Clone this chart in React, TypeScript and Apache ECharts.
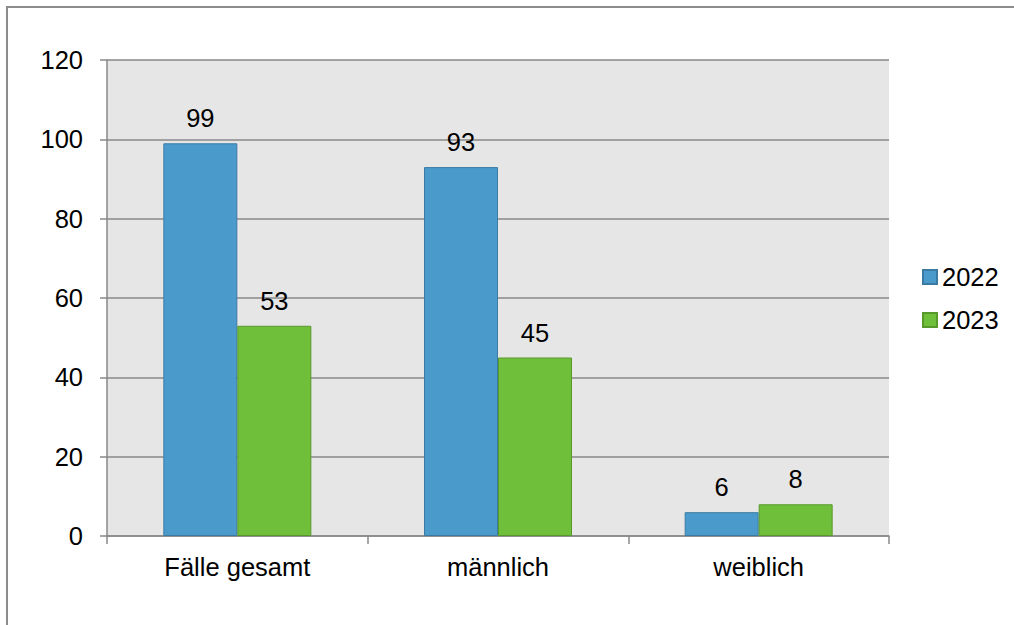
import React, { useEffect, useRef } from "react";
import * as echarts from "echarts";

const categories = ["Fälle gesamt", "männlich", "weiblich"];
const series2022 = [99, 93, 6];
const series2023 = [53, 45, 8];
const seriesNames = ["2022", "2023"];

export default function App() {
  const ref = useRef<HTMLDivElement>(null);
  useEffect(() => {
    document.body.style.margin = "0";
    const chart = echarts.init(ref.current!, null, { renderer: "svg" });
    const font = "'Liberation Sans', Arial, sans-serif";
    const fs = 25.5;
    const labelCfg = {
      show: true,
      position: "top" as const,
      distance: 12,
      fontSize: fs,
      color: "#000",
      fontFamily: font,
    };
    chart.setOption({
      animation: false,
      textStyle: { fontFamily: font },
      graphic: [
        {
          type: "rect",
          shape: { x: 7, y: 7, width: 1010, height: 625 },
          style: { fill: "none", stroke: "#8c8c8c", lineWidth: 2 },
          silent: true,
        },
      ],
      grid: {
        left: 107,
        right: 125,
        top: 60,
        bottom: 89,
        show: true,
        backgroundColor: "#e6e6e6",
        borderWidth: 0,
      },
      legend: {
        orient: "vertical",
        left: 917,
        top: 259,
        itemWidth: 14,
        itemHeight: 14,
        itemGap: 17,
        icon: "rect",
        textStyle: { fontSize: fs, color: "#000", fontFamily: font },
        data: seriesNames,
      },
      xAxis: {
        type: "category",
        data: categories,
        axisLine: { lineStyle: { color: "#888", width: 1.5 } },
        axisTick: { show: true, length: 8, lineStyle: { color: "#888", width: 1.5 } },
        axisLabel: { fontSize: fs, color: "#000", margin: 18, fontFamily: font },
      },
      yAxis: {
        type: "value",
        min: 0,
        max: 120,
        interval: 20,
        axisLine: { show: true, lineStyle: { color: "#888", width: 1.5 } },
        axisTick: { show: true, length: 7, lineStyle: { color: "#888", width: 1.5 } },
        axisLabel: { fontSize: fs, color: "#000", margin: 24, fontFamily: font },
        splitLine: { lineStyle: { color: "#888", width: 1.5 } },
      },
      series: [
        {
          name: seriesNames[0],
          type: "bar",
          data: series2022,
          barWidth: 74,
          barGap: "0%",
          itemStyle: { color: "#4a9bcb", borderColor: "#3b7ba3", borderWidth: 1 },
          label: labelCfg,
        },
        {
          name: seriesNames[1],
          type: "bar",
          data: series2023,
          barWidth: 74,
          barGap: "0%",
          itemStyle: { color: "#70bf3b", borderColor: "#58992c", borderWidth: 1 },
          label: labelCfg,
        },
      ],
    });
    return () => chart.dispose();
  }, []);
  return (
    <div
      ref={ref}
      style={{ position: "absolute", left: 0, top: 0, width: 1014, height: 625 }}
    />
  );
}
